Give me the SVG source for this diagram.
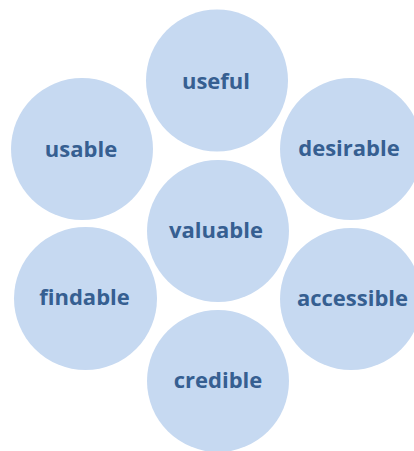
<svg xmlns="http://www.w3.org/2000/svg" width="414" height="451" viewBox="0 0 414 451">
<style>
.c{fill:#C6D9F1}
.t{font-family:"Open Sans","Liberation Sans",sans-serif;font-weight:bold;font-size:22px;fill:#365F91;text-anchor:middle}
</style>
<rect width="414" height="451" fill="#fff"/>
<g id="connectors"></g>
<g id="useful"><circle class="c" cx="217" cy="80.5" r="71"/><text class="t" x="216" y="89">useful</text></g>
<g id="usable"><circle class="c" cx="82" cy="149" r="71"/><text class="t" x="81" y="157">usable</text></g>
<g id="desirable"><circle class="c" cx="351" cy="149" r="71"/><text class="t" x="349" y="156">desirable</text></g>
<g id="valuable"><circle class="c" cx="218" cy="231" r="71"/><text class="t" x="216" y="238">valuable</text></g>
<g id="findable"><circle class="c" cx="85.5" cy="298.5" r="71.5"/><text class="t" x="84.5" y="305">findable</text></g>
<g id="accessible"><circle class="c" cx="351" cy="299" r="71"/><text class="t" x="352.5" y="306">accessible</text></g>
<g id="credible"><circle class="c" cx="218" cy="381" r="71"/><text class="t" x="218" y="388">credible</text></g>
</svg>
